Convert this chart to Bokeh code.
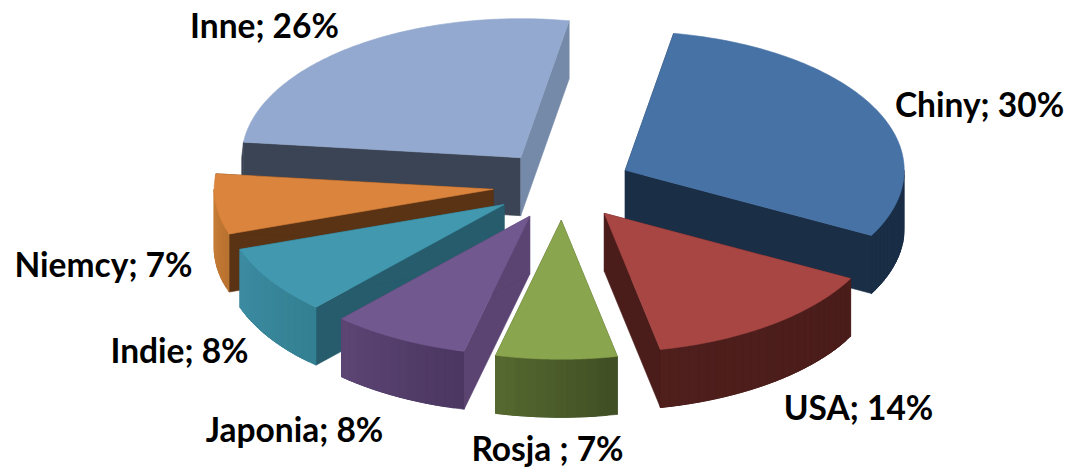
import math
from bokeh.plotting import figure
from bokeh.models import Range1d
from bokeh.core.properties import value
from bokeh.embed import file_html
from bokeh.resources import INLINE

# data
CATEGORIES = ["Chiny", "USA", "Rosja ", "Japonia", "Indie", "Niemcy", "Inne"]
SHARES = [30, 14, 7, 8, 8, 7, 26]

# style
TOP = ["#4672a6", "#a84644", "#89a54e", "#71588f", "#4198af", "#db843d", "#93a9cf"]
WALL_START = ["#1a2e46", "#4a1c1a", "#46562a", "#5b4372", "#265c6c", "#5a3214", "#3a4454"]
WALL_END = ["#1a2e46", "#4a1c1a", "#46562a", "#5b4372", "#265c6c", "#5a3214", "#7589a9"]
RIM_START = ["#1a2e46", "#4a1c1a", "#3f4e24", "#4a3660", "#338091", "#b87230", "#3a4454"]
RIM_END = ["#1a2e46", "#4f1f1c", "#56692f", "#5d4574", "#3c8ba2", "#c98038", "#3a4454"]

# layout (page pixels)
W, H = 1070, 467
CX, CY, RX, RY = 562, 185, 279, 139
DEPTH, EXPLODE, START = 58, 0.25, 10
LABEL_X = [979, 858, 547, 294, 179, 103, 264]
LABEL_Y = [103, 406, 447, 428, 349, 263, 24]


def mix(a, b, f):
    ca = [int(a[i:i + 2], 16) for i in (1, 3, 5)]
    cb = [int(b[i:i + 2], 16) for i in (1, 3, 5)]
    return "#%02x%02x%02x" % tuple(round(p + (q - p) * f) for p, q in zip(ca, cb))


total = sum(SHARES)
slices, a = [], START
for i, s in enumerate(SHARES):
    t0, t1 = a, a + 360 * s / total
    a = t1
    m = math.radians((t0 + t1) / 2)
    ax = CX + EXPLODE * RX * math.sin(m)
    ay = CY - EXPLODE * RY * math.cos(m)
    slices.append((ay, i, ax, t0, t1))
slices.sort()  # back to front

xs, ys, cs = [], [], []


def add(px, py, c):
    xs.append(px)
    ys.append(py)
    cs.append(c)


def rim(ax, ay, t):
    r = math.radians(t)
    return ax + RX * math.sin(r), ay - RY * math.cos(r)


for ay, i, ax, t0, t1 in slices:
    p0, p1 = rim(ax, ay, t0), rim(ax, ay, t1)
    for p, col in ((p0, WALL_START[i]), (p1, WALL_END[i])):
        add([ax, p[0], p[0], ax], [ay, p[1], p[1] + DEPTH, ay + DEPTH], col)
    # outer rim: only the part that faces the viewer; each strip runs under the next one
    lo, hi = max(t0, 90), min(t1, 270)
    n = max(1, int((hi - lo) / 2))
    for k in range(n):
        u = [lo + (hi - lo) * min(k + j, n) / n for j in range(4)]
        upper = [rim(ax, ay, v) for v in u]
        px = [q[0] for q in upper]
        py = [q[1] for q in upper]
        add(px + px[::-1], py + [v + DEPTH for v in py[::-1]],
            mix(RIM_START[i], RIM_END[i], (k + 0.5) / n))
    arc = [rim(ax, ay, t0 + (t1 - t0) * k / 120) for k in range(121)]
    add([ax] + [q[0] for q in arc], [ay] + [q[1] for q in arc], TOP[i])

p = figure(width=W, height=H, x_range=Range1d(0, W), y_range=Range1d(H, 0),
           output_backend="svg", toolbar_location=None, min_border=0,
           background_fill_color="white", border_fill_color="white")
p.axis.visible = False
p.grid.visible = False
p.outline_line_color = None
p.patches(xs, ys, fill_color=cs, line_color=cs, line_width=0.6)

labels = [f"{c}; {s}%" for c, s in zip(CATEGORIES, SHARES)]
p.text(LABEL_X, LABEL_Y, text=labels, text_font=value("Lato"), text_font_style="bold",
       text_font_size="33.5px", text_color="#000000", text_align="center", text_baseline="middle")

open("out.html", "w").write(file_html(p, INLINE))
